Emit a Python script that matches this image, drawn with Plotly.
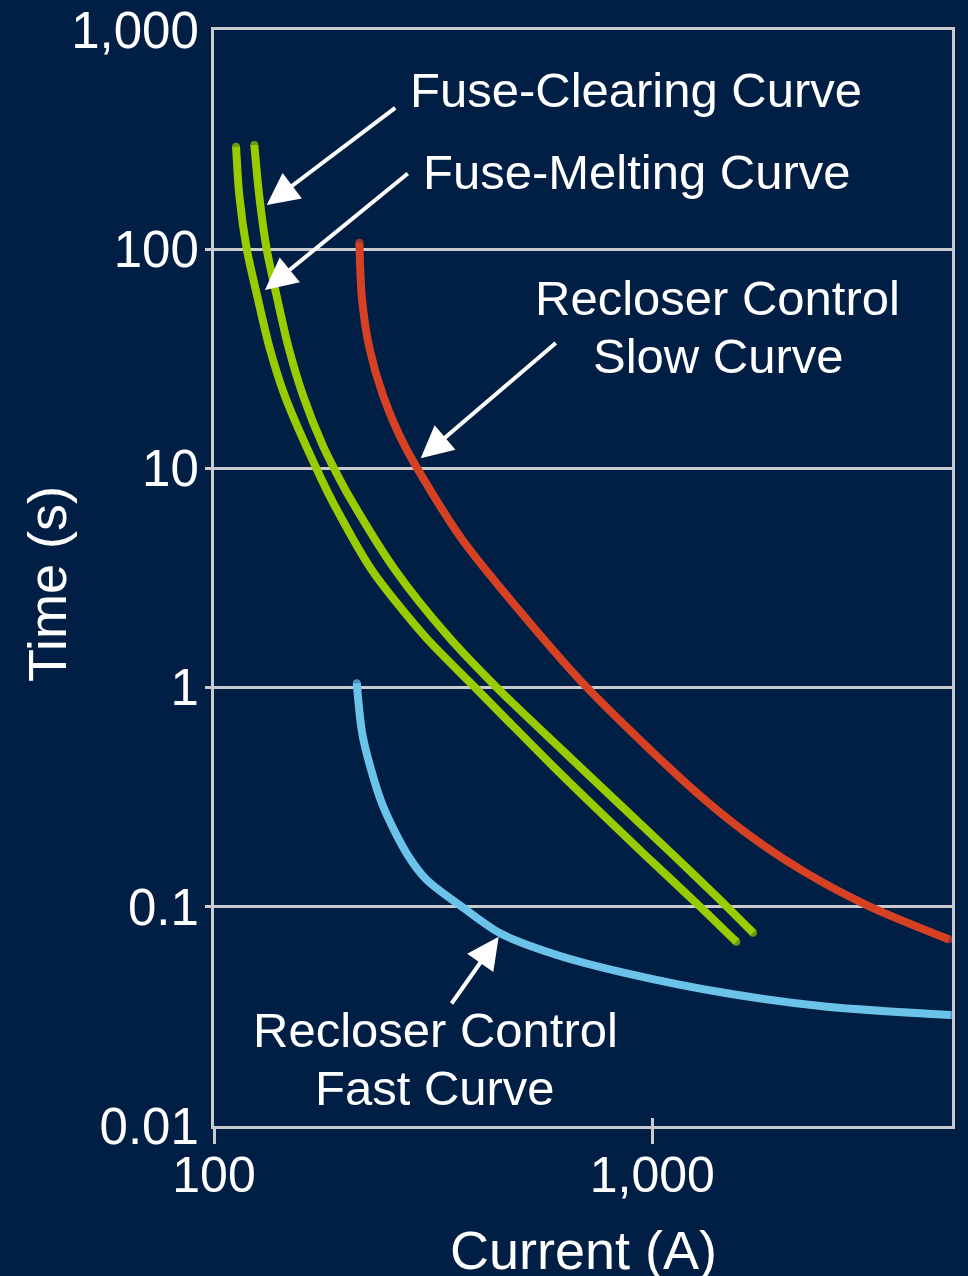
import plotly.graph_objects as go

# ---------------- data ----------------
melt_current = [112.3, 114.3, 118.8, 125.6, 133.7, 145.3, 176.2, 187.3, 229.1,
                303.2, 394.4, 616.6, 955.2, 1287, 1555]
melt_time = [293.5, 173.6, 100, 60.7, 35.9, 21.24, 8.85, 6.93, 3.44,
             1.707, 1.0, 0.406, 0.175, 0.1, 0.0693]

clear_current = [123.6, 126.9, 131.9, 139.1, 147.8, 160.0, 177.6, 194.0, 207.7, 259.0,
                 342.7, 442.0, 616.6, 1118, 1405, 1698]
clear_time = [298.8, 173.6, 100, 60.7, 35.9, 21.24, 12.56, 8.85, 6.93, 3.44,
              1.707, 1.0, 0.529, 0.172, 0.111, 0.0762]

slow_current = [214.7, 217.4, 225.9, 243.6, 273.0, 364.5, 482.4, 709.6,
                1243, 1645, 2255, 3145, 4747]
slow_time = [107.1, 60.7, 35.9, 21.24, 12.56, 4.88, 2.42, 1.0,
             0.341, 0.216, 0.142, 0.1, 0.0711]

fast_current = [211.8, 218.6, 241.5, 275.4, 306.0, 368.0, 449.8, 606.1, 875.4, 1481, 2505, 4790]
fast_time = [1.046, 0.597, 0.297, 0.175, 0.1325, 0.1, 0.0757, 0.0603, 0.0497, 0.0403, 0.035, 0.0321]

x_tickvals = [100, 1000]
x_ticktext = ["100", "1,000"]
y_tickvals = [0.01, 0.1, 1, 10, 100, 1000]
y_ticktext = ["0.01", "0.1", "1", "10", "100", "1,000"]
y_minor_tickvals = [0.1, 1, 10, 100]

# ---------------- style ----------------
BG = "#011E44"
GRID = "#C9CBCF"
GREEN = "#99CC00"
RED = "#D64123"
BLUE = "#6CC3E9"
FONT = "Liberation Sans, Arial, sans-serif"

W, H = 968, 1276
ML, MR, MT, MB = 214, 16, 30, 150
X_RANGE = [2, 3.684]
Y_RANGE = [-2, 3]


def paper(px, py):
    return (px - ML) / (W - ML - MR), (H - MB - py) / (H - MT - MB)


fig = go.Figure()

for xs, ys, col in [
    (melt_current, melt_time, GREEN),
    (clear_current, clear_time, GREEN),
    (slow_current, slow_time, RED),
    (fast_current, fast_time, BLUE),
]:
    sizes = [8] + [0] * (len(xs) - 2) + [8]
    fig.add_trace(go.Scatter(
        x=xs, y=ys, mode="lines+markers",
        line=dict(color=col, width=8, shape="spline", smoothing=0.8),
        marker=dict(size=sizes, color=col, line=dict(width=0)),
        showlegend=False, hoverinfo="skip",
    ))

# helper trace so the overlay axes (used for the tick marks) are drawn
fig.add_trace(go.Scatter(x=[], y=[], xaxis="x2", yaxis="y2", showlegend=False))

annotations = []

# text labels
for text, px, py in [
    ("Fuse-Clearing Curve", 636, 90),
    ("Fuse-Melting Curve", 637, 172),
    ("Recloser Control", 717, 298),
    ("Slow Curve", 718, 356),
    ("Recloser Control", 435, 1030),
    ("Fast Curve", 435, 1088),
    ("Current (A)", 583, 1250),
]:
    x, y = paper(px, py)
    annotations.append(dict(
        text=text, x=x, y=y, xref="paper", yref="paper",
        xanchor="center", yanchor="middle", showarrow=False,
        font=dict(size=49 if text != "Current (A)" else 54, color="white", family=FONT),
    ))

# y axis title
x, y = paper(47, 584)
annotations.append(dict(
    text="Time (s)", x=x, y=y, xref="paper", yref="paper", textangle=-90,
    xanchor="center", yanchor="middle", showarrow=False,
    font=dict(size=54, color="white", family=FONT),
))

# arrows: (tip px, tip py, tail px, tail py)
for tx, ty, sx, sy in [
    (266.7, 205, 396.7, 106.7),
    (265, 290, 409.3, 172.3),
    (420.7, 458.3, 557.3, 341.7),
    (498.7, 936.7, 450.5, 1005),
]:
    x, y = paper(tx, ty)
    annotations.append(dict(
        text="", x=x, y=y, xref="paper", yref="paper",
        ax=sx - tx, ay=sy - ty, showarrow=True,
        arrowhead=2, arrowsize=1.6, arrowwidth=4, arrowcolor="white",
        standoff=0, startstandoff=0,
    ))

fig.update_layout(
    width=W, height=H,
    paper_bgcolor=BG, plot_bgcolor=BG,
    margin=dict(l=ML, r=MR, t=MT, b=MB, autoexpand=False),
    font=dict(family=FONT, color="white", size=50),
    showlegend=False,
    annotations=annotations,
    xaxis=dict(
        type="log", range=X_RANGE, tickvals=x_tickvals, ticktext=x_ticktext,
        ticks="outside", ticklen=15, tickwidth=3, tickcolor=GRID,
        showgrid=False, zeroline=False, automargin=False,
        showline=True, linecolor=GRID, linewidth=3, mirror=True,
        ticklabelstandoff=-12,
        tickfont=dict(size=50, color="white", family=FONT),
    ),
    yaxis=dict(
        type="log", range=Y_RANGE, tickvals=y_tickvals, ticktext=y_ticktext,
        ticks="", showgrid=True, gridcolor=GRID, gridwidth=2.5, zeroline=False,
        showline=True, linecolor=GRID, linewidth=3, mirror=True, automargin=False,
        ticklabelstandoff=2,
        tickfont=dict(size=51, color="white", family=FONT),
    ),
    xaxis2=dict(
        type="log", range=X_RANGE, overlaying="x", anchor="y", side="bottom",
        tickvals=x_tickvals, ticks="inside", ticklen=8, tickwidth=3, tickcolor=GRID,
        showticklabels=False, showgrid=False, showline=False, zeroline=False,
        automargin=False,
    ),
    yaxis2=dict(
        type="log", range=Y_RANGE, overlaying="y", anchor="x", side="left",
        tickvals=y_minor_tickvals, ticks="outside", ticklen=8, tickwidth=3, tickcolor=GRID,
        showticklabels=False, showgrid=False, showline=False, zeroline=False,
        automargin=False,
    ),
)

fig.write_html(
    "out.html",
    config={"displayModeBar": False},
    post_script="document.body.style.margin='0';document.body.style.overflow='hidden';",
)
